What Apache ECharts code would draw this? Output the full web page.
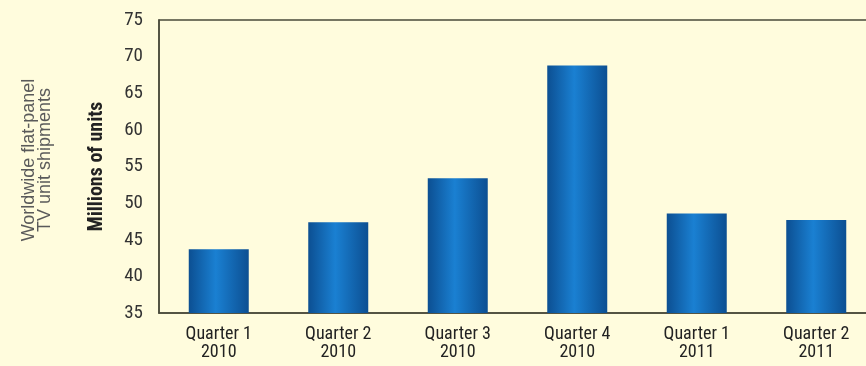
<!DOCTYPE html>
<html>
<head>
<meta charset="utf-8">
<script src="https://cdn.jsdelivr.net/npm/echarts@6/dist/echarts.min.js"></script>
<style>
html,body{margin:0;padding:0;background:#fffcdd;}
#chart{width:866px;height:366px;}
</style>
</head>
<body>
<div id="chart"></div>
<script>
var categories = ['Quarter 1\n2010','Quarter 2\n2010','Quarter 3\n2010','Quarter 4\n2010','Quarter 1\n2011','Quarter 2\n2011'];
var shipments = [43.7, 47.4, 53.4, 68.8, 48.6, 47.7];
var yTicks = [35, 40, 45, 50, 55, 60, 65, 70, 75];

var FONT = '"Liberation Sans Narrow", "Roboto Condensed", "Liberation Sans", Arial, sans-serif';
var chart = echarts.init(document.getElementById('chart'));
chart.setOption({
  backgroundColor: '#fffcdd',
  animation: false,
  grid: {left: 159, top: 20, bottom: 53, right: -10, outerBoundsMode: 'none', containLabel: false, show: true, borderColor: '#4a4a3a', borderWidth: 1.5, backgroundColor: 'transparent'},
  graphic: [{
    type: 'text',
    x: 37, y: 160,
    rotation: Math.PI / 2,
    style: {
      text: 'Worldwide flat-panel\nTV unit shipments',
      font: '18px "Liberation Sans", Arial, sans-serif',
      fill: '#5a5a5a',
      align: 'center',
      verticalAlign: 'middle',
      lineHeight: 16
    }
  }],
  xAxis: {
    type: 'category',
    data: categories,
    axisLine: {show: true, lineStyle: {color: '#4a4a3a', width: 1.5}},
    axisTick: {show: false},
    axisLabel: {color: '#222', fontSize: 18, fontFamily: FONT, lineHeight: 18, margin: 12, interval: 0}
  },
  yAxis: {
    type: 'value',
    min: yTicks[0], max: yTicks[yTicks.length - 1], interval: 5,
    name: 'Millions of units',
    nameLocation: 'middle',
    nameGap: 52,
    nameTextStyle: {fontWeight: 'bold', fontSize: 20, color: '#222', fontFamily: FONT},
    axisLine: {show: true, lineStyle: {color: '#4a4a3a', width: 1.5}},
    axisTick: {show: false},
    splitLine: {show: false},
    axisLabel: {color: '#333', fontSize: 19, fontFamily: FONT, margin: 16}
  },
  series: [{
    type: 'bar',
    data: shipments,
    barWidth: 60,
    itemStyle: {
      color: new echarts.graphic.LinearGradient(0, 0, 1, 0, [
        {offset: 0, color: '#0c4f92'},
        {offset: 0.45, color: '#1a80d2'},
        {offset: 1, color: '#0c4f92'}
      ])
    }
  }]
});
</script>
</body>
</html>
